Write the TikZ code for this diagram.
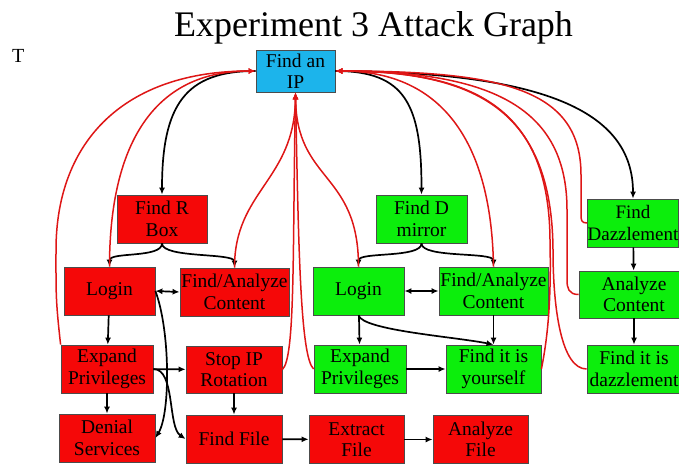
\documentclass[tikz,border=0pt]{standalone}
\usepackage{fontspec}
\setmainfont{Liberation Serif}
\usetikzlibrary{arrows.meta}

\definecolor{boxred}{RGB}{245,8,8}
\definecolor{boxgreen}{RGB}{12,238,12}
\definecolor{boxblue}{RGB}{28,180,235}
\definecolor{linkred}{RGB}{222,22,22}

\tikzset{
	box/.style={draw=black!70, line width=0.8pt, inner sep=0pt, align=center,
		minimum height=48pt, font=\fontsize{19.5}{21.5}\selectfont},
	redbox/.style={box, fill=boxred},
	greenbox/.style={box, fill=boxgreen},
	bluebox/.style={box, fill=boxblue},
	arr/.style={-{Latex[length=7pt,width=6pt]}, line width=1.7pt, black},
	darr/.style={{Latex[length=7pt,width=6pt]}-{Latex[length=7pt,width=6pt]}, line width=1.7pt, black},
	back/.style={-{Latex[length=7pt,width=6pt]}, line width=1.5pt, linkred},
}

\begin{document}
\begin{tikzpicture}[x=1pt, y=1pt]
			%%%%% START %%%%%
			\useasboundingbox (0,0) rectangle (679,-463);
			
			\node[anchor=base, font=\fontsize{36}{40}\selectfont] (title) at (373.5,-36) {Experiment 3 Attack Graph};
			\node[anchor=base west, inner sep=0pt, font=\fontsize{20}{22}\selectfont] (tee) at (12,-62) {T};
			
			\node[bluebox, minimum width=79pt, minimum height=42pt] (ip) at (295.5,-71) {Find an\\IP};
			
			\node[redbox, minimum width=90pt] (rbox) at (162,-219) {Find R\\Box};
			\node[redbox, minimum width=91pt] (rlogin) at (109.5,-291) {Login};
			\node[redbox, minimum width=109pt] (rfind) at (234.5,-292) {Find/Analyze\\Content};
			\node[redbox, minimum width=92pt] (rexpand) at (107,-369) {Expand\\Privileges};
			\node[redbox, minimum width=96pt, minimum height=47pt] (rstop) at (234,-369.5) {Stop IP\\Rotation};
			\node[redbox, minimum width=96pt] (rdenial) at (107,-438) {Denial\\Services};
			\node[redbox, minimum width=96pt] (rfile) at (234,-439) {Find File};
			\node[redbox, minimum width=95pt] (rextract) at (356.5,-439.5) {Extract\\File};
			\node[redbox, minimum width=95pt] (ranalyze) at (480.5,-439.5) {Analyze\\File};
			
			\node[greenbox, minimum width=91pt] (gmirror) at (421.5,-219) {Find D\\mirror};
			\node[greenbox, minimum width=91pt] (glogin) at (358.5,-291) {Login};
			\node[greenbox, minimum width=109pt] (gfind) at (493.5,-291) {Find/Analyze\\Content};
			\node[greenbox, minimum width=92pt] (gexpand) at (360,-369) {Expand\\Privileges};
			\node[greenbox, minimum width=95pt] (gyour) at (493.5,-369) {Find it is\\yourself};
			
			\node[greenbox, minimum width=91pt, font=\fontsize{19}{21.5}\selectfont] (gdazz) at (633,-223) {Find\\Dazzlement};
			\node[greenbox, minimum width=110pt, minimum height=47pt] (ganalyze) at (634,-294.5) {Analyze\\Content};
			\node[greenbox, minimum width=94pt] (gdazfind) at (634,-369) {Find it is\\dazzlement};
			
			% black links
			\draw[arr] (ip.west) .. controls +(-70,0) and +(0,90) .. (rbox.north);
			\draw[arr] (ip.east) .. controls +(70,0) and +(0,90) .. (gmirror.north);
			\draw[arr] (ip.east) .. controls +(205,-1) and +(0,89) .. (gdazz.north);
			
			\draw[arr] (rbox.south) .. controls +(0,-15) and +(0,15) .. (rlogin.north);
			\draw[arr] (rbox.south) .. controls +(0,-15) and +(0,15) .. (rfind.north);
			\draw[darr] (rlogin.east) -- (rfind.west);
			\draw[arr] (rlogin) -- (rexpand);
			\draw[arr] (rlogin.east) .. controls +(15,-40) and +(15,25) .. (rdenial.east);
			\draw[arr] (rexpand) -- (rstop);
			\draw[arr] (rexpand.east) .. controls +(22,0) and +(-18,12) .. (rfile.west);
			\draw[arr] (rexpand) -- (rdenial);
			\draw[arr] (rstop) -- (rfile);
			\draw[arr] (rfile) -- (rextract);
			\draw[arr] (rextract) -- (ranalyze);
			
			\draw[arr] (gmirror.south) .. controls +(0,-15) and +(0,15) .. (glogin.north);
			\draw[arr] (gmirror.south) .. controls +(0,-15) and +(0,15) .. (gfind.north);
			\draw[darr] (glogin.east) -- (gfind.west);
			\draw[arr] (glogin) -- (gexpand);
			\draw[arr] (glogin.south) .. controls +(5,-15) and +(-40,8) .. (gyour.north);
			\draw[arr] (gfind) -- (gyour);
			\draw[arr] (gexpand) -- (gyour);
			
			\draw[arr] (gdazz) -- (ganalyze);
			\draw[arr] (ganalyze) -- (gdazfind);
			
			% red links back to the IP
			\draw[back] (rexpand.north west) .. controls +(-5,45) and +(0,-45) .. (56,-250) .. controls +(0,110) and +(-130,0) .. (ip.west);
			\draw[back] (rlogin.north) .. controls +(0,110) and +(-110,0) .. (ip.west);
			
			\draw[back] (rfind.north) .. controls +(0,77) and +(-1,-88) .. (ip.south);
			\draw[back] (rstop.east) .. controls +(13,12) and +(-3,-160) .. (ip.south);
			\draw[back] (gexpand.west) .. controls +(-13,12) and +(3,-160) .. (ip.south);
			\draw[back] (glogin.north) .. controls +(0,95) and +(1,-90) .. (ip.south);
			
			\draw[back] (gfind.north) .. controls +(-2,120) and +(110,0) .. (ip.east);
			\draw[back] (gyour.east) .. controls +(8,40) and +(1,-50) .. (550,-240) .. controls +(-1,135) and +(135,0) .. (ip.east);
			\draw[back] (gdazfind.west) .. controls +(-25,0) and +(0,-60) .. (553,-250) .. controls +(-1,140) and +(140,0) .. (ip.east);
			\draw[back] (ganalyze.west) .. controls +(-10,0) and +(0,-8) .. (567,-280) -- (567,-210) .. controls +(0,100) and +(160,0) .. (ip.east);
			\draw[back] (gdazz.west) .. controls +(-6,0) and +(0,-6) .. (581,-214) -- (581,-175) .. controls +(0,85) and +(170,0) .. (ip.east);
			
			%%%%% END %%%%%
\end{tikzpicture}
\end{document}
